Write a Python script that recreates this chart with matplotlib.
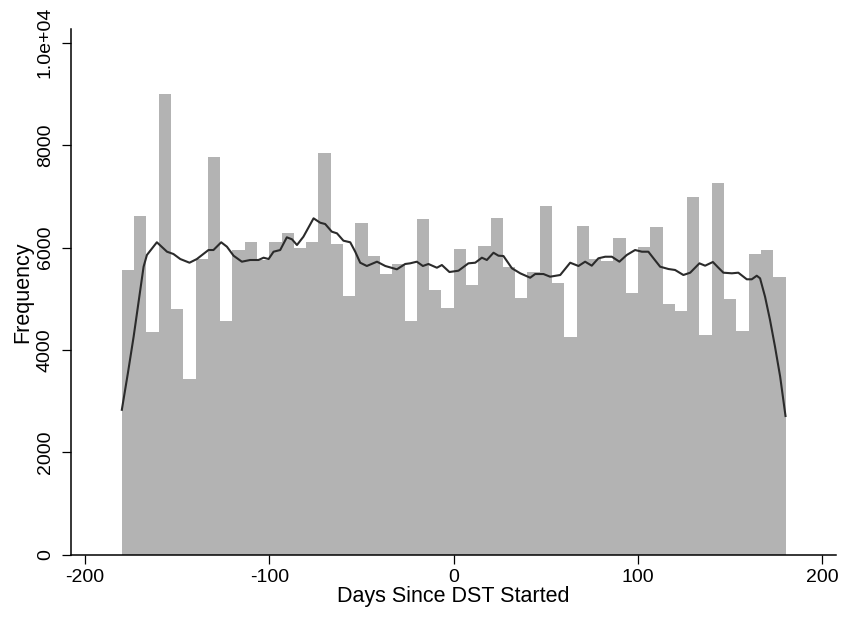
import numpy as np
import matplotlib.pyplot as plt

plt.rcParams['font.family'] = ['Liberation Sans', 'DejaVu Sans']
plt.rcParams['axes.unicode_minus'] = False

# histogram: 54 equal bins over [-180, 180]
bin_edges = np.linspace(-180, 180, 55)
counts = [5561, 6615, 4350, 8998, 4799, 3432, 5775, 7768, 4570, 5951,
          6107, 5756, 6107, 6283, 5990, 6107, 7846, 6068, 5053, 6479,
          5834, 5482, 5678, 4570, 6557, 5170, 4818, 5971, 5268, 6029,
          6576, 5619, 5014, 5521, 6811, 5307, 4252, 6420, 5775, 5736,
          6185, 5111, 6010, 6400, 4896, 4760, 6986, 4291, 7260, 4994,
          4369, 5873, 5951, 5424]

# kernel density overlay, scaled to frequency
kd_days = [-180, -176.7, -173.6, -168.2, -166.4, -161, -155.5, -152, -148.3, -143.3,
           -139.3, -133, -130.3, -126.1, -123, -119.4, -114.9, -110.4, -105.9, -103.1,
           -100.4, -97.7, -94.1, -90.5, -87.7, -85, -81.5, -76, -72.4, -69.7,
           -66.1, -63.3, -59.8, -56.1, -53.4, -50.7, -47.1, -41.6, -37.1, -30.8,
           -26.3, -23.6, -20, -16.7, -13.7, -9.1, -6.4, -2.3, 2.6, 8,
           11.7, 15.3, 18, 21.6, 24.3, 27, 31.6, 36.1, 41.5, 44.2,
           48.7, 52.3, 57.8, 63.2, 67.7, 71.3, 74.9, 78.5, 82.2, 85.8,
           89.9, 93.9, 98.4, 102.1, 105.6, 108.4, 112, 116.5, 120.1, 124.6,
           128.3, 133.3, 136.4, 140.6, 143.6, 146.3, 150.9, 154.4, 159, 161.7,
           164.4, 166.2, 168.9, 171.6, 174.3, 177.1, 180]
kd_freq = [2830, 3549, 4258, 5625, 5854, 6102, 5918, 5873, 5775, 5703,
           5775, 5951, 5951, 6102, 6016, 5840, 5723, 5756, 5756, 5801,
           5775, 5918, 5951, 6199, 6160, 6049, 6211, 6570, 6484, 6459,
           6309, 6277, 6133, 6102, 5918, 5703, 5639, 5723, 5639, 5574,
           5678, 5691, 5723, 5639, 5678, 5605, 5658, 5521, 5547, 5691,
           5703, 5801, 5756, 5898, 5840, 5834, 5594, 5496, 5410, 5482,
           5482, 5430, 5463, 5703, 5639, 5723, 5645, 5789, 5820, 5820,
           5723, 5854, 5951, 5918, 5918, 5789, 5625, 5580, 5561, 5463,
           5508, 5691, 5645, 5717, 5605, 5508, 5496, 5508, 5379, 5379,
           5449, 5398, 5039, 4584, 4063, 3477, 2709]

xticks = [-200, -100, 0, 100, 200]
yticks = [0, 2000, 4000, 6000, 8000, 10000]
ytick_labels = ['0', '2000', '4000', '6000', '8000', '1.0e+04']

fig = plt.figure(figsize=(8.42, 6.17), dpi=100)
ax = fig.add_axes([0.0847, 0.101, 0.9082, 0.8515])

ax.bar(bin_edges[:-1], counts, width=np.diff(bin_edges), align='edge',
       color='#b3b3b3', linewidth=0)
ax.plot(kd_days, kd_freq, color='#2b2b2b', linewidth=1.5,
        solid_joinstyle='round')

ax.set_xlim(-207.4, 207.4)
ax.set_ylim(0, 10262)
ax.set_xticks(xticks)
ax.set_yticks(yticks)
ax.set_yticklabels(ytick_labels, rotation=90, va='center')

ax.spines['top'].set_visible(False)
ax.spines['right'].set_visible(False)
for s in ('left', 'bottom'):
    ax.spines[s].set_linewidth(1.1)
ax.tick_params(axis='both', direction='out', length=6.5, width=0.9, labelsize=14)
ax.tick_params(axis='x', pad=4)
ax.tick_params(axis='y', pad=6)

ax.set_xlabel('Days Since DST Started', fontsize=15.5, labelpad=0)
ax.set_ylabel('Frequency', fontsize=15.5, labelpad=3)

fig.savefig('out.png', dpi=100)
